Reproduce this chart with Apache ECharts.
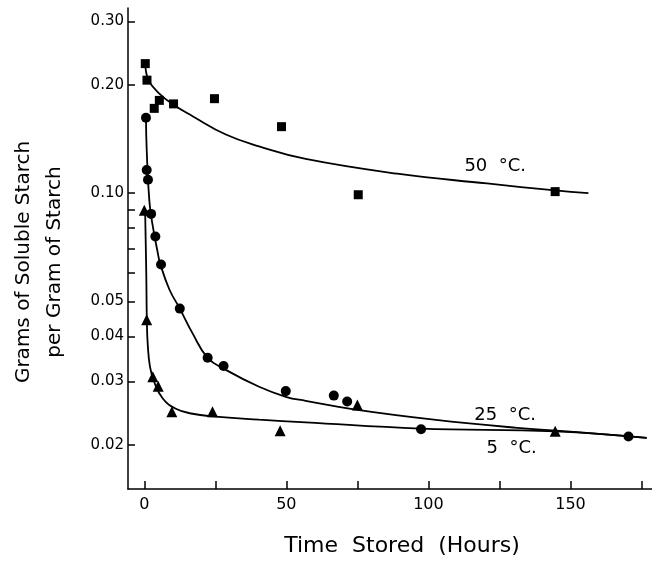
<!DOCTYPE html>
<html>
<head>
<meta charset="utf-8">
<script src="https://cdn.jsdelivr.net/npm/echarts@6/dist/echarts.min.js"></script>
<style>
  html, body { margin: 0; padding: 0; background: #fff; }
  #chart { width: 652px; height: 563px; }
</style>
</head>
<body>
<div id="chart"></div>
<script>
// Measured soluble starch (g per g starch) against storage time (hours)
const hours50 = [0.35, 0.95, 3.5, 5.3, 10.3, 24.7, 48.3, 75.3, 144.6];
const starch50 = [0.229, 0.206, 0.172, 0.181, 0.177, 0.183, 0.153, 0.099, 0.101];

const hours25 = [0.6, 0.85, 1.3, 2.4, 3.9, 5.9, 12.5, 22.3, 27.9, 49.8, 66.7, 71.4, 97.4, 170.4];
const starch25 = [0.162, 0.116, 0.109, 0.0876, 0.0758, 0.0634, 0.0478, 0.0349, 0.0331, 0.0282, 0.0274, 0.0264, 0.0221, 0.0211];

const hours5 = [0, 0.85, 3, 4.9, 9.7, 24, 47.8, 75, 144.6];
const starch5 = [0.0897, 0.0445, 0.0309, 0.0291, 0.0247, 0.0247, 0.0219, 0.0258, 0.0218];

// Hand-fitted curves through each temperature's data
const curveHours50 = [0.35, 1.5, 5.3, 10.3, 17, 28.7, 40.4, 56.8, 89, 120.6, 144.6, 156.3];
const curveStarch50 = [0.229, 0.206, 0.189, 0.176, 0.1636, 0.1455, 0.1349, 0.1245, 0.1133, 0.1064, 0.1018, 0.100];

const curveHours25 = [0.6, 0.85, 1.8, 2.9, 4.7, 5.5, 8.8, 12.5, 17, 22.3, 28.7, 40.4, 49.8, 56.8, 73.8, 101.9, 131.2, 148.7, 176.8];
const curveStarch25 = [0.162, 0.132, 0.0949, 0.0818, 0.0686, 0.0641, 0.0541, 0.0478, 0.0408, 0.0349, 0.0323, 0.0290, 0.0272, 0.0265, 0.0251, 0.0235, 0.0223, 0.0218, 0.0209];

const curveHours5 = [0.3, 0.7, 0.9, 1.2, 2, 3.5, 6.5, 11.1, 17, 24, 40.4, 56.8, 97.2, 144.6, 176.8];
const curveStarch5 = [0.089, 0.06, 0.0445, 0.0382, 0.0330, 0.0299, 0.0269, 0.0252, 0.0244, 0.0240, 0.0235, 0.0231, 0.0222, 0.0218, 0.0209];

// Axis ticks and labels
const xTickValues = [0, 25, 50, 75, 100, 125, 150, 175];
const xLabelValues = [0, 50, 100, 150];
const yTickValues = [0.02, 0.03, 0.04, 0.05, 0.06, 0.07, 0.08, 0.09, 0.1, 0.2, 0.3];
const yLabelValues = [0.02, 0.03, 0.04, 0.05, 0.1, 0.2, 0.3];

// Curve captions: [hours, starch, text]
const captions = [
  [123.5, 0.119, '50  \u00B0C.'],
  [127.0, 0.0242, '25  \u00B0C.'],
  [129.3, 0.01954, '5  \u00B0C.']
];

const FONT = 'DejaVu Sans';
const INK = '#000';
const pair = (xs, ys) => xs.map((x, i) => [x, ys[i]]);

const chart = echarts.init(document.getElementById('chart'), null, { renderer: 'canvas' });

const curve = (name, xs, ys, caption) => ({
  name: name,
  type: 'line',
  data: pair(xs, ys),
  showSymbol: false,
  smooth: 0.45,
  lineStyle: { color: INK, width: 1.8 },
  z: 2,
  markPoint: {
    symbol: 'circle',
    symbolSize: 0,
    silent: true,
    label: {
      show: true,
      position: 'inside',
      formatter: caption[2],
      color: INK,
      fontFamily: FONT,
      fontSize: 18
    },
    data: [{ coord: [caption[0], caption[1]] }]
  }
});

const points = (name, xs, ys, symbol, size) => ({
  name: name,
  type: 'scatter',
  data: pair(xs, ys),
  symbol: symbol,
  symbolSize: size,
  itemStyle: { color: INK, opacity: 1 },
  z: 3
});

chart.setOption({
  animation: false,
  backgroundColor: '#fff',
  grid: { left: 127, right: 0, top: 8, bottom: 74 },
  xAxis: {
    type: 'value',
    min: -5.73,
    max: 178.68,
    name: 'Time  Stored  (Hours)',
    nameLocation: 'middle',
    nameGap: 46,
    nameTextStyle: {
      color: INK, fontFamily: FONT, fontSize: 22,
      verticalAlign: 'top', padding: [0, 0, 0, 24]
    },
    axisLine: { onZero: false, lineStyle: { color: INK, width: 1.5 } },
    axisTick: {
      inside: true, length: 8, customValues: xTickValues,
      lineStyle: { color: INK, width: 1.5 }
    },
    axisLabel: {
      customValues: xLabelValues, margin: 8,
      color: INK, fontFamily: FONT, fontSize: 16
    },
    splitLine: { show: false }
  },
  yAxis: {
    type: 'log',
    logBase: 10,
    min: 0.01508,
    max: 0.3268,
    name: 'Grams of Soluble Starch\nper Gram of Starch',
    nameLocation: 'middle',
    nameRotate: 90,
    nameGap: 58,
    nameTextStyle: {
      color: INK, fontFamily: FONT, fontSize: 20, lineHeight: 31,
      padding: [0, 27, 0, 0]
    },
    axisLine: { show: true, onZero: false, lineStyle: { color: INK, width: 1.5 } },
    axisTick: {
      inside: true, length: 7, customValues: yTickValues,
      lineStyle: { color: INK, width: 1.5 }
    },
    axisLabel: {
      customValues: yLabelValues, margin: 4,
      formatter: (v) => Number(v).toFixed(2),
      color: INK, fontFamily: FONT, fontSize: 15
    },
    minorTick: { show: false },
    splitLine: { show: false }
  },
  series: [
    curve('50 °C fit', curveHours50, curveStarch50, captions[0]),
    curve('25 °C fit', curveHours25, curveStarch25, captions[1]),
    curve('5 °C fit', curveHours5, curveStarch5, captions[2]),
    points('50 °C', hours50, starch50, 'rect', 9),
    points('25 °C', hours25, starch25, 'circle', 10),
    points('5 °C', hours5, starch5, 'triangle', 11)
  ]
});
</script>
</body>
</html>
